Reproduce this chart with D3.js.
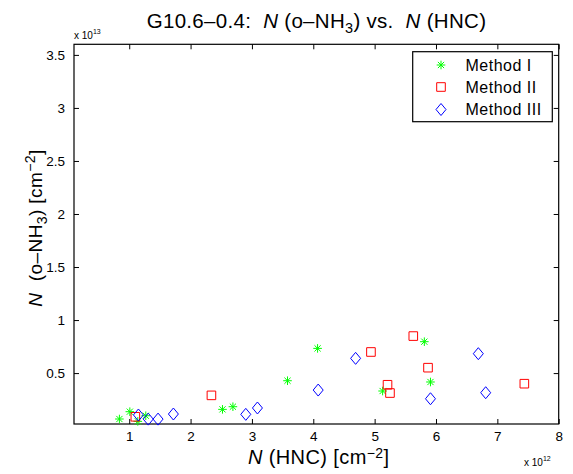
<!DOCTYPE html>
<html><head><meta charset="utf-8">
<script src="https://cdn.jsdelivr.net/npm/d3@7"></script>
<style>body{margin:0;background:#fff}svg{display:block;font-family:"Liberation Sans",Arial,sans-serif}text{white-space:pre}</style>
</head><body>
<svg id="c" width="573" height="474"></svg>
<script>
// Values in units of 1e12 (x) and 1e13 (y)
const method1X = [0.84, 1.01, 1.14, 1.27, 2.52, 2.69, 3.58, 4.07, 5.13, 5.81, 5.91];
const method1Y = [0.067, 0.136, 0.045, 0.098, 0.158, 0.183, 0.428, 0.733, 0.331, 0.796, 0.416];
const method2X = [1.10, 2.34, 4.94, 5.63, 5.87, 5.21, 5.25, 7.44];
const method2Y = [0.088, 0.290, 0.699, 0.849, 0.551, 0.390, 0.312, 0.400];
const method3X = [1.15, 1.31, 1.47, 1.72, 2.90, 3.09, 4.08, 4.69, 5.91, 6.69, 6.81];
const method3Y = [0.105, 0.066, 0.066, 0.114, 0.111, 0.171, 0.340, 0.639, 0.258, 0.683, 0.315];
const xTicks = [1, 2, 3, 4, 5, 6, 7, 8];
const yTicks = [0.5, 1, 1.5, 2, 2.5, 3, 3.5];
const seriesNames = ["Method I", "Method II", "Method III"];

const svg = d3.select("#c");
const L = 74, R = 558.7, T = 44.3, B = 424;
const x = d3.scaleLinear().domain([0.1, 8]).range([L, R]);
const y = d3.scaleLinear().domain([0.02, 3.6]).range([B, T]);

const g = svg.append("g");
g.append("rect").attr("x", L).attr("y", T).attr("width", R - L).attr("height", B - T)
  .attr("fill", "none").attr("stroke", "#000").attr("stroke-width", 1.2);

const fmt = d => String(d);
const xb = d3.axisBottom(x).tickValues(xTicks).tickSizeInner(-5).tickSizeOuter(0).tickPadding(7).tickFormat(fmt);
const xt = d3.axisTop(x).tickValues(xTicks).tickSizeInner(-5).tickSizeOuter(0).tickFormat("");
const yl = d3.axisLeft(y).tickValues(yTicks).tickSizeInner(-5).tickSizeOuter(0).tickPadding(9).tickFormat(fmt);
const yr = d3.axisRight(y).tickValues(yTicks).tickSizeInner(-5).tickSizeOuter(0).tickFormat("");

function style(sel) {
  sel.select(".domain").remove();
  sel.selectAll("line").attr("stroke", "#000").attr("stroke-width", 1);
  sel.selectAll("text").attr("font-family", "Liberation Sans, Arial, sans-serif").attr("font-size", 13.5).attr("fill", "#000");
}
g.append("g").attr("transform", `translate(0,${B})`).call(xb).call(style);
g.append("g").attr("transform", `translate(0,${T})`).call(xt).call(style);
g.append("g").attr("transform", `translate(${L},0)`).call(yl).call(style);
g.append("g").attr("transform", `translate(${R},0)`).call(yr).call(style);

function starPath(s) {
  const a = s, b = s * 0.72;
  return `M${-a},0L${a},0M0,${-a}L0,${a}M${-b},${-b}L${b},${b}M${-b},${b}L${b},${-b}`;
}
function squarePath(s) { return `M${-s},${-s}L${s},${-s}L${s},${s}L${-s},${s}Z`; }
function diamondPath(w, h) { return `M0,${-h}L${w},0L0,${h}L${-w},0Z`; }

const series = [
  { xs: method1X, ys: method1Y, color: "#00ff00", path: starPath(4.3) },
  { xs: method2X, ys: method2Y, color: "#ff0000", path: squarePath(4.3) },
  { xs: method3X, ys: method3Y, color: "#0000ff", path: diamondPath(5, 6) }
];
series.forEach(s => {
  g.append("g").selectAll("path").data(s.xs.map((v, i) => [v, s.ys[i]])).join("path")
    .attr("transform", d => `translate(${x(d[0])},${y(d[1])})`)
    .attr("d", s.path).attr("fill", "none").attr("stroke", s.color).attr("stroke-width", 1);
});

// legend
const lg = svg.append("g");
lg.append("rect").attr("x", 412.7).attr("y", 51.7).attr("width", 139.6).attr("height", 70)
  .attr("fill", "#fff").attr("stroke", "#000").attr("stroke-width", 1.2);
const rowY = [65, 87, 109.5];
series.forEach((s, i) => {
  lg.append("path").attr("transform", `translate(441,${rowY[i]})`).attr("d", s.path)
    .attr("fill", "none").attr("stroke", s.color).attr("stroke-width", 1);
  lg.append("text").attr("x", 465.5).attr("y", rowY[i] + 5.5).attr("font-size", 16)
    .attr("letter-spacing", 0.5).text(seriesNames[i]);
});

// title
const title = svg.append("text").attr("x", 316.5).attr("y", 28).attr("text-anchor", "middle")
  .attr("font-size", 20.5).attr("letter-spacing", 0.3);
title.append("tspan").text("G10.6\u20130.4:  ");
title.append("tspan").attr("font-style", "italic").text("N");
title.append("tspan").text(" (o\u2013NH");
title.append("tspan").attr("font-size", 14.5).attr("dy", 5).text("3");
title.append("tspan").attr("dy", -5).text(") vs.  ");
title.append("tspan").attr("font-style", "italic").text("N");
title.append("tspan").text(" (HNC)");

// exponent labels
const e1 = svg.append("text").attr("x", 74).attr("y", 39).attr("font-size", 10);
e1.append("tspan").text("x 10");
e1.append("tspan").attr("font-size", 7).attr("dy", -5).text("13");
const e2 = svg.append("text").attr("x", 524).attr("y", 466).attr("font-size", 10);
e2.append("tspan").text("x 10");
e2.append("tspan").attr("font-size", 7).attr("dy", -5).text("12");

// x label
const xl = svg.append("text").attr("x", 318.7).attr("y", 464).attr("text-anchor", "middle")
  .attr("font-size", 20).attr("letter-spacing", 0.4);
xl.append("tspan").attr("font-style", "italic").text("N");
xl.append("tspan").text(" (HNC) [cm");
xl.append("tspan").attr("font-size", 14).attr("dy", -6).text("\u22122");
xl.append("tspan").attr("dy", 6).text("]");

// y label
const ylab = svg.append("text").attr("transform", "translate(42,228) rotate(-90)").attr("text-anchor", "middle")
  .attr("font-size", 19).attr("letter-spacing", 0.4);
ylab.append("tspan").attr("font-style", "italic").text("N");
ylab.append("tspan").text("  (o\u2013NH");
ylab.append("tspan").attr("font-size", 14).attr("dy", 5).text("3");
ylab.append("tspan").attr("dy", -5).text(") [cm");
ylab.append("tspan").attr("font-size", 14).attr("dy", -7).text("\u22122");
ylab.append("tspan").attr("dy", 7).text("]");
</script>
</body></html>
